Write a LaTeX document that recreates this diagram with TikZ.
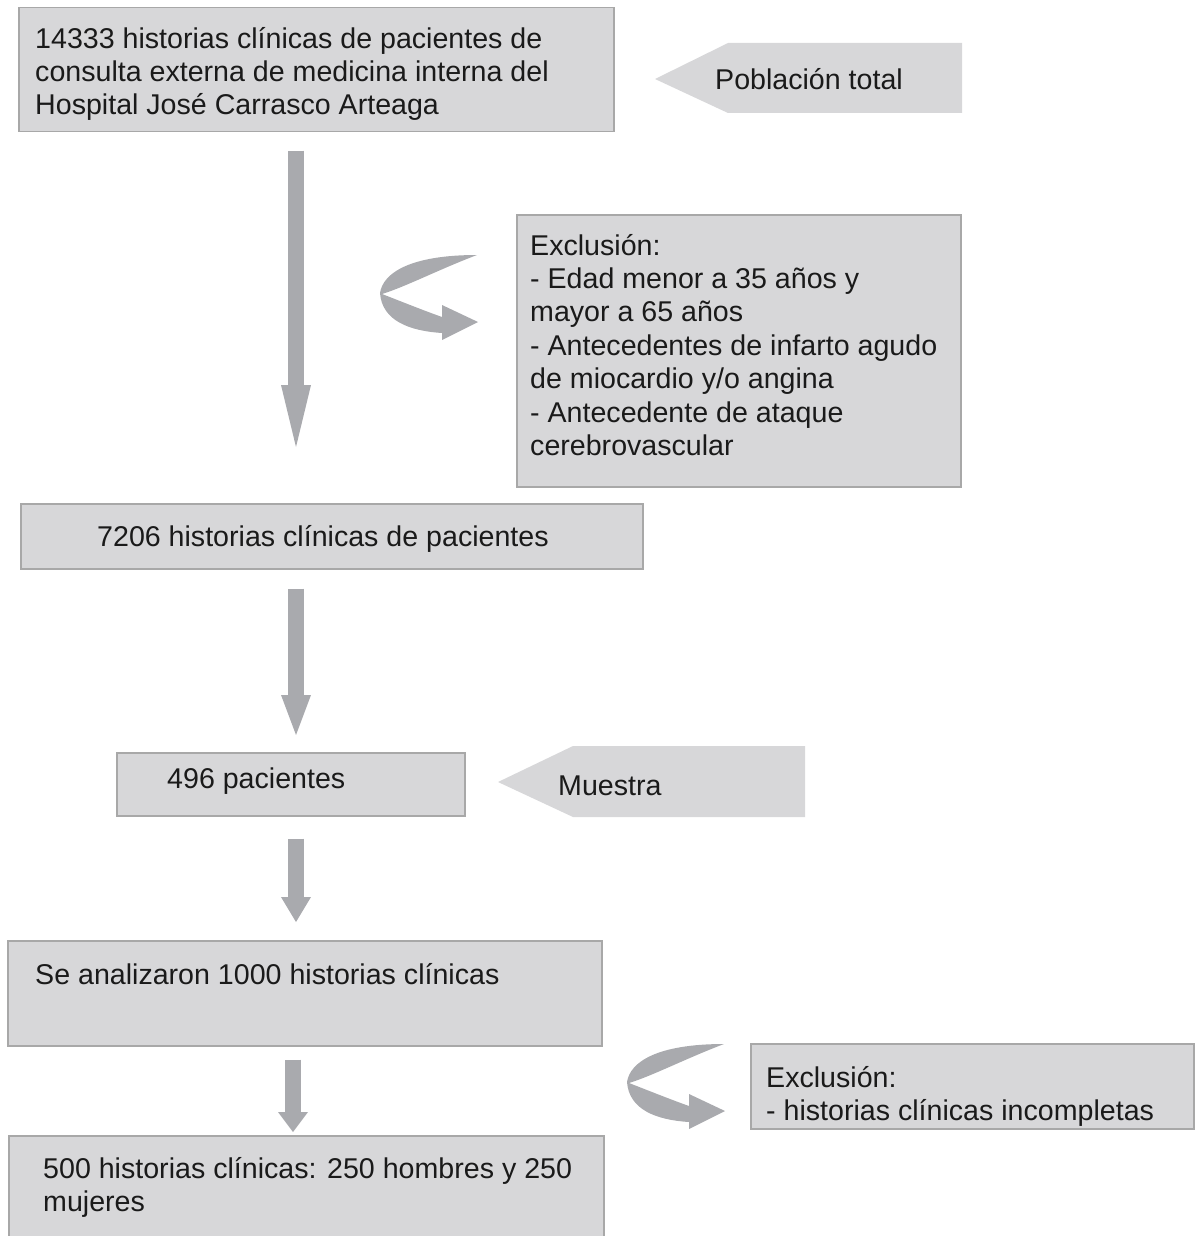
\documentclass[tikz,border=0pt]{standalone}
\usepackage{fontspec}
\setmainfont{Liberation Sans}
\usetikzlibrary{arrows.meta}

\definecolor{boxfill}{HTML}{D7D7D9}
\definecolor{boxline}{HTML}{A8A8A8}
\definecolor{arrowgray}{HTML}{A9AAAE}
\definecolor{ink}{HTML}{1A1A1A}

\begin{document}
\begin{tikzpicture}[x=1pt, y=-1pt,
    box/.style={rectangle, draw=boxline, line width=1.5pt, fill=boxfill,
        anchor=north west, inner sep=0pt},
    txt/.style={anchor=base west, align=left, inner sep=0pt, text=ink,
        font=\fontsize{28.6}{33.4}\selectfont},
    flow/.style={draw=arrowgray, line width=16pt,
        -{Triangle[width=30pt, length=#1, line width=0pt]}},
    tag/.style={fill=boxfill},
    turn/.pic={
        \fill[arrowgray] (0,0) .. controls (3,-20) and (30,-38) .. (97,-38)
            .. controls (60,-24) and (25,-6) .. (2,1)
            .. controls (20,8) and (45,18) .. (62,24)
            -- (62,12) -- (98,29) -- (62,47) -- (62,40)
            .. controls (30,38) and (2,28) .. cycle;
    }
]
    \useasboundingbox (0,0) rectangle (1195,1236);

    % boxes
    \node[box, minimum width=595pt, minimum height=124pt] (pob) at (18,7) {};
    \node[box, minimum width=444pt, minimum height=272pt] (excl) at (516,214) {};
    \node[box, minimum width=622pt, minimum height=65pt] (hist) at (20,503) {};
    \node[box, minimum width=348pt, minimum height=63pt] (pac) at (116,752) {};
    \node[box, minimum width=594pt, minimum height=105pt] (anal) at (7,940) {};
    \node[box, minimum width=443pt, minimum height=85pt] (inc) at (750,1043) {};
    \node[box, minimum width=595pt, minimum height=115pt] (fin) at (8,1135) {};

    % side tags
    \fill[tag] (655,79) -- (728,43) -- (962,43) -- (962,113) -- (728,113) -- cycle;
    \fill[tag] (498,782) -- (573,746) -- (805,746) -- (805,817) -- (573,817) -- cycle;

    % texts (base = last line)
    \node[txt] (pobtxt) at (35,114.8) {14333 historias clínicas de pacientes de\\
        consulta externa de medicina interna del\\Hospital José Carrasco Arteaga};
    \node[txt] (total) at (715,90) {Población total};
    \node[txt] (excltxt) at (530,455.4) {Exclusión:\\- Edad menor a 35 años y\\
        mayor a 65 años\\- Antecedentes de infarto agudo\\de miocardio y/o angina\\
        - Antecedente de ataque\\cerebrovascular};
    \node[txt] (histtxt) at (97,546) {7206 historias clínicas de pacientes};
    \node[txt] (pactxt) at (167,788) {496 pacientes};
    \node[txt] (muestra) at (558,795) {Muestra};
    \node[txt] (analtxt) at (35,984) {Se analizaron 1000 historias clínicas};
    \node[txt] (inctxt) at (766,1120.4) {Exclusión:\\- historias clínicas incompletas};
    \node[txt] (fintxt) at (43,1211.4) {500 historias clínicas: 250 hombres y 250\\mujeres};

    % arrows
    \coordinate (col) at (296,0);
    \coordinate (colb) at (293,0);
    \draw[flow=62pt, shorten <=18pt, shorten >=56pt] (col |- pob.south) -- (col |- hist.north);
    \draw[flow=40pt, shorten <=19pt, shorten >=17pt] (col |- hist.south) -- (col |- pac.north);
    \draw[flow=25pt, shorten <=22pt, shorten >=18pt] (col |- pac.south) -- (col |- anal.north);
    \draw[flow=20pt, shorten <=13pt, shorten >=3pt] (colb |- anal.south) -- (colb |- fin.north);

    \pic at (380,293) {turn};
    \pic at (627,1082) {turn};
\end{tikzpicture}
\end{document}
